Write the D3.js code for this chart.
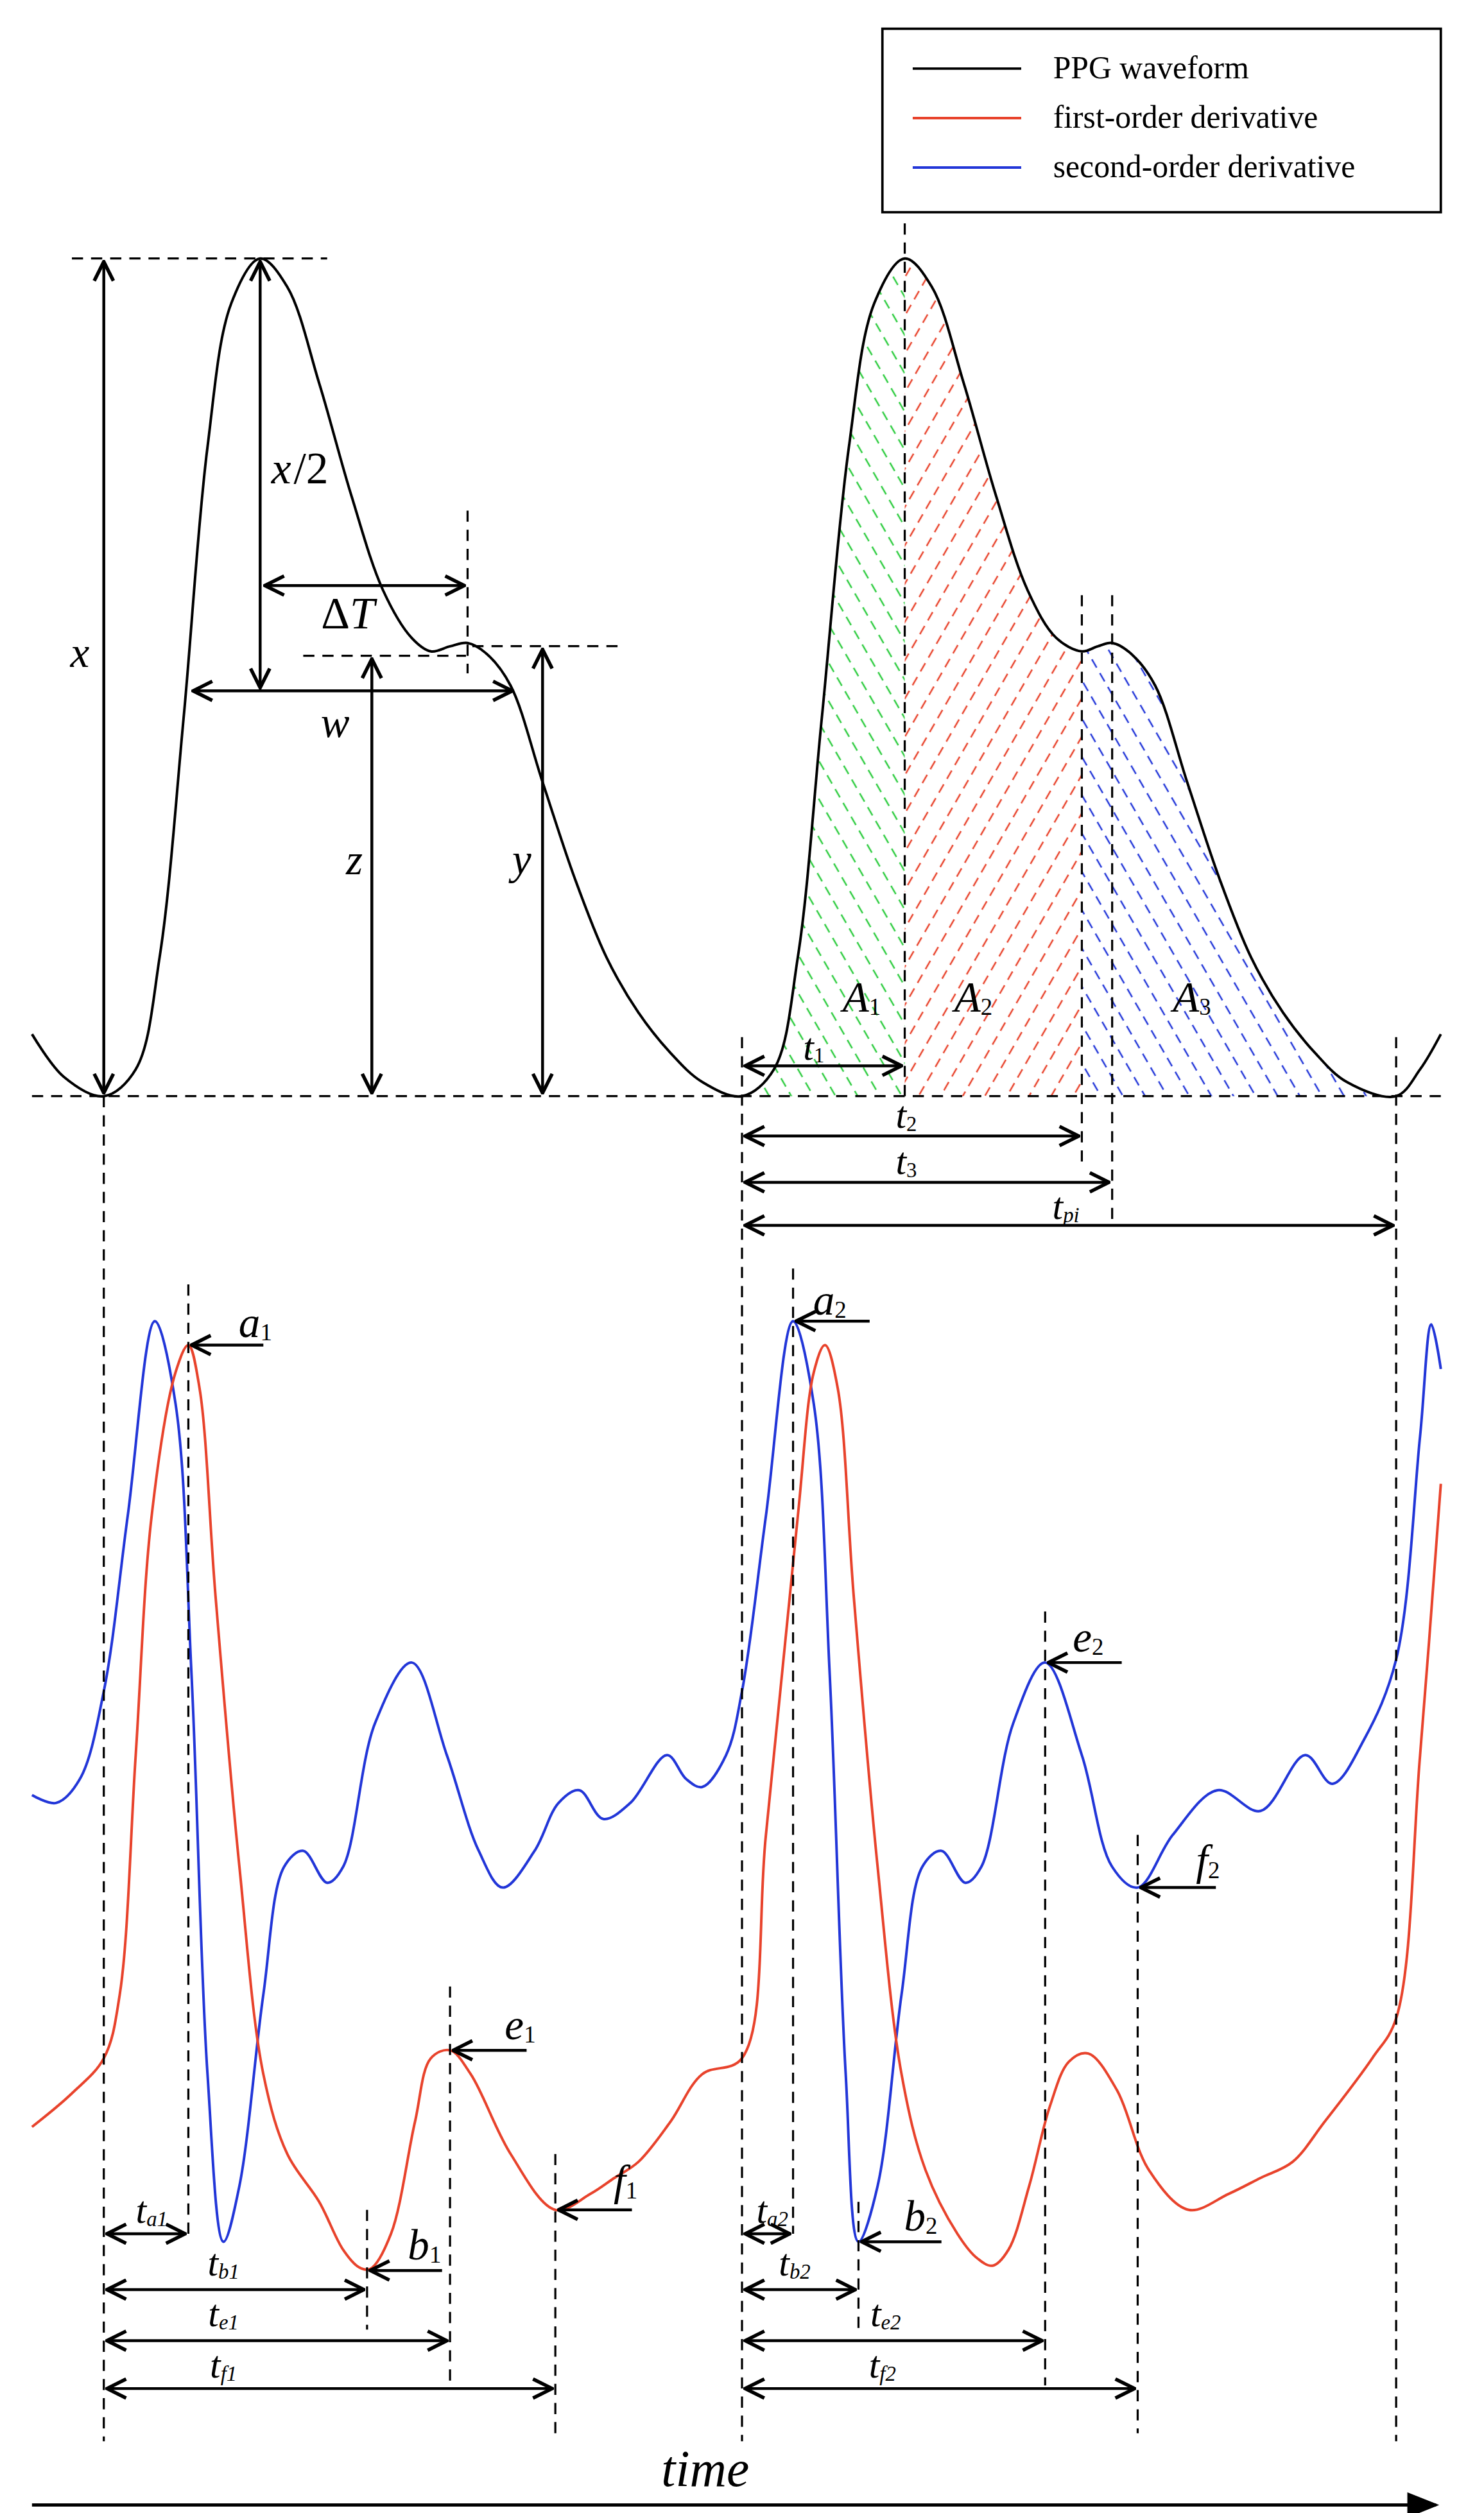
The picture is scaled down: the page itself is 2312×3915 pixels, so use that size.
<!DOCTYPE html>
<html>
<head>
<meta charset="utf-8">
<script src="https://cdn.jsdelivr.net/npm/d3@7"></script>
<style>
  body { margin: 0; background: #fff; }
</style>
</head>
<body>
<script>
// PPG waveform (time, amplitude 0..100)
const ppgT = [20, 40, 65, 85, 100, 115, 130, 145, 163, 180, 200, 220, 240, 258, 270, 282, 293, 305, 320, 340, 360, 380, 400, 420, 440, 465,
              485, 500, 515, 532, 548, 567, 584, 604, 624, 644, 662, 678, 688, 697, 709, 724, 744, 764, 784, 804, 824, 844, 875, 890, 903];
const ppgV = [7.4, 2.3, 0, 3.2, 16.6, 45.1, 77.5, 94.7, 100, 96.6, 85.1, 71.8, 60.4, 54.7, 53.1, 53.7, 54.1, 52.8, 49, 37.5, 26.1, 16.6, 10, 5.2, 1.7, 0,
              3.2, 16.6, 45.1, 77.5, 94.7, 100, 96.6, 85.1, 71.8, 60.4, 54.7, 53.1, 53.7, 54.1, 52.8, 49, 37.5, 26.1, 16.6, 10, 5.2, 1.7, 0, 3.2, 7.4];

// second-order derivative (blue)
const d2T = [20, 35, 50, 65, 80, 97, 110, 120, 130, 140, 150, 165, 178, 190, 205, 215, 235, 258, 280, 300, 315, 335, 350, 363, 378, 395, 418, 430, 440, 455,
             465, 480, 497, 510, 520, 530, 538, 550, 565, 578, 590, 605, 615, 635, 655, 678, 697, 713, 735, 763, 790, 818, 835, 855, 875, 890, 897, 903];
const d2V = [5, 0, 15, 70, 180, 302, 250, 80, -170, -275, -240, -120, -40, -30, -50, -40, 50, 88, 30, -30, -53, -30, 0, 8, -10, 0, 30, 15, 10, 30,
             70, 180, 302, 250, 80, -170, -275, -240, -120, -40, -30, -50, -40, 50, 88, 30, -40, -53, -20, 8, -5, 30, 12, 40, 90, 230, 300, 272];

// first-order derivative (red)
const d1T = [20, 45, 65, 75, 85, 95, 110, 118, 125, 135, 150, 165, 180, 200, 215, 225, 232, 245, 260, 270, 282, 295, 320, 348, 370, 385, 400, 420, 440, 465,
             480, 500, 510, 517, 525, 535, 550, 565, 580, 600, 612, 622, 632, 645, 658, 670, 682, 700, 720, 745, 770, 790, 810, 830, 860, 875, 890, 903];
const d1V = [-203, -182, -160, -120, 30, 180, 270, 287, 260, 130, -40, -170, -220, -250, -280, -291, -292, -270, -200, -160, -155, -170, -220, -255, -245, -235, -225, -200, -170, -160,
             -20, 180, 270, 287, 260, 130, -40, -170, -230, -270, -285, -290, -280, -240, -190, -162, -157, -180, -230, -255, -245, -235, -225, -200, -160, -135, 30, 200];

const legendItems = ["PPG waveform", "first-order derivative", "second-order derivative"];
const legendColors = ["#000", "#e8432c", "#2236d8"];

const W = 930, H = 1575;
const FONT = "'Liberation Serif', 'Times New Roman', 'DejaVu Serif', serif";
const svg = d3.select("body").append("svg")
  .attr("width", 2312).attr("height", 3915)
  .attr("viewBox", `0 0 ${W} ${H}`)
  .attr("font-family", FONT);

const x = d3.scaleLinear().domain([0, W]).range([0, W]);
const yTop = d3.scaleLinear().domain([0, 100]).range([687, 162]);
const yBot = d3.scaleLinear().domain([-300, 300]).range([1430, 830]);

const defs = svg.append("defs");
defs.append("marker").attr("id", "arr")
  .attr("viewBox", "0 0 14 14").attr("refX", 13).attr("refY", 7)
  .attr("markerWidth", 14).attr("markerHeight", 14).attr("markerUnits", "userSpaceOnUse")
  .attr("orient", "auto-start-reverse")
  .append("path").attr("d", "M1,1 L13,7 L1,13").attr("fill", "none").attr("stroke", "#000").attr("stroke-width", 2.2);

// hatch patterns
[["hg", "#2ecc40", -30], ["hr", "#e8432c", 30], ["hb", "#2236d8", -30]].forEach(([id, c, a]) => {
  const p = defs.append("pattern").attr("id", id).attr("patternUnits", "userSpaceOnUse")
    .attr("width", 12).attr("height", 10).attr("patternTransform", `rotate(${a})`);
  p.append("line").attr("x1", 2).attr("y1", 0).attr("x2", 2).attr("y2", 6)
    .attr("stroke", c).attr("stroke-width", 1);
});

const ppg = ppgT.map((t, i) => ({ t, v: ppgV[i] }));
const d1 = d1T.map((t, i) => ({ t, v: d1V[i] }));
const d2 = d2T.map((t, i) => ({ t, v: d2V[i] }));

const curve = d3.curveCatmullRom.alpha(0.5);
const area = d3.area().x(d => x(d.t)).y0(yTop(0)).y1(d => yTop(d.v)).curve(curve);

[[465, 567, "hg"], [567, 678, "hr"], [678, 875, "hb"]].forEach(([a, b, id], i) => {
  defs.append("clipPath").attr("id", "c" + i)
    .append("rect").attr("x", x(a)).attr("y", 0).attr("width", x(b) - x(a)).attr("height", 700);
  svg.append("path").datum(ppg).attr("d", area).attr("fill", `url(#${id})`).attr("clip-path", `url(#c${i})`);
});

const line = s => d3.line().x(d => x(d.t)).y(d => s(d.v)).curve(curve);
svg.append("path").datum(ppg).attr("d", line(yTop)).attr("fill", "none").attr("stroke", "#000").attr("stroke-width", 1.6);
svg.append("path").datum(d2).attr("d", line(yBot)).attr("fill", "none").attr("stroke", legendColors[2]).attr("stroke-width", 1.6);
svg.append("path").datum(d1).attr("d", line(yBot)).attr("fill", "none").attr("stroke", legendColors[1]).attr("stroke-width", 1.6);

// helpers
function dash(x1, y1, x2, y2) {
  svg.append("line").attr("x1", x1).attr("y1", y1).attr("x2", x2).attr("y2", y2)
    .attr("stroke", "#000").attr("stroke-width", 1.3).attr("stroke-dasharray", "7,5");
}
function arrow(x1, y1, x2, y2, both = true) {
  svg.append("line").attr("x1", x1).attr("y1", y1).attr("x2", x2).attr("y2", y2)
    .attr("stroke", "#000").attr("stroke-width", 1.8)
    .attr("marker-end", "url(#arr)").attr("marker-start", both ? "url(#arr)" : null);
}
function label(tx, ty, main, sub, size = 27) {
  const t = svg.append("text").attr("x", tx).attr("y", ty).attr("font-size", size).attr("font-style", "italic").attr("text-anchor", "middle");
  t.append("tspan").text(main);
  if (sub) t.append("tspan").attr("font-size", size * 0.55).attr("font-style", sub.italic ? "italic" : "normal").attr("dy", 2).text(sub.s);
}

// baseline and top annotations
dash(20, 687, 905, 687);
dash(45, 162, 205, 162);
arrow(65, 164, 65, 685); label(50, 418, "x");
arrow(163, 164, 163, 431);
svg.append("text").attr("x", 170).attr("y", 303).attr("font-size", 28).attr("font-style", "italic").text("x");
svg.append("text").attr("x", 184).attr("y", 303).attr("font-size", 28).text("/2");
arrow(166, 367, 291, 367);
svg.append("text").attr("x", 218).attr("y", 394).attr("font-size", 28).attr("text-anchor", "middle")
  .call(t => { t.append("tspan").text("Δ"); t.append("tspan").attr("font-style", "italic").text("T"); });
dash(293, 320, 293, 422);
dash(190, 411, 292, 411);
dash(296, 405, 392, 405);
arrow(121, 433, 321, 433); label(210, 462, "w");
arrow(233, 413, 233, 685); label(222, 548, "z");
arrow(340, 407, 340, 685); label(327, 548, "y");

// right cycle annotations
dash(567, 140, 567, 687);
dash(678, 373, 678, 730);
dash(697, 373, 697, 765);
dash(465, 650, 465, 1530);
dash(875, 650, 875, 1530);
arrow(467, 668, 565, 668); label(510, 664, "t", { s: "1" }, 24);
arrow(467, 712, 676, 712); label(568, 707, "t", { s: "2" }, 24);
arrow(467, 741, 695, 741); label(568, 736, "t", { s: "3" }, 24);
arrow(467, 768, 873, 768); label(668, 764, "t", { s: "pi", italic: true }, 24);
label(540, 634, "A", { s: "1" }); label(610, 634, "A", { s: "2" }); label(747, 634, "A", { s: "3" });

// bottom annotations
dash(65, 687, 65, 1530);
dash(118, 805, 118, 1400); arrow(165, 843, 120, 843, false); label(160, 838, "a", { s: "1" });
dash(497, 795, 497, 1400); arrow(545, 828, 499, 828, false); label(520, 824, "a", { s: "2" });
dash(230, 1385, 230, 1460); arrow(277, 1423, 232, 1423, false); label(266, 1416, "b", { s: "1" });
dash(282, 1245, 282, 1495); arrow(330, 1285, 284, 1285, false); label(326, 1278, "e", { s: "1" });
dash(348, 1350, 348, 1525); arrow(396, 1385, 350, 1385, false); label(392, 1376, "f", { s: "1" });
dash(538, 1380, 538, 1460); arrow(590, 1405, 540, 1405, false); label(577, 1398, "b", { s: "2" });
dash(655, 1010, 655, 1495); arrow(703, 1042, 657, 1042, false); label(682, 1035, "e", { s: "2" });
dash(713, 1150, 713, 1525); arrow(762, 1183, 715, 1183, false); label(757, 1175, "f", { s: "2" });

arrow(67, 1400, 116, 1400); label(95, 1393, "t", { s: "a1", italic: true }, 24);
arrow(67, 1435, 228, 1435); label(140, 1426, "t", { s: "b1", italic: true }, 24);
arrow(67, 1467, 280, 1467); label(140, 1458, "t", { s: "e1", italic: true }, 24);
arrow(67, 1497, 346, 1497); label(140, 1490, "t", { s: "f1", italic: true }, 24);
arrow(467, 1400, 495, 1400); label(484, 1393, "t", { s: "a2", italic: true }, 24);
arrow(467, 1435, 536, 1435); label(498, 1426, "t", { s: "b2", italic: true }, 24);
arrow(467, 1467, 653, 1467); label(555, 1458, "t", { s: "e2", italic: true }, 24);
arrow(467, 1497, 711, 1497); label(553, 1490, "t", { s: "f2", italic: true }, 24);

// time axis
svg.append("line").attr("x1", 20).attr("y1", 1570).attr("x2", 900).attr("y2", 1570)
  .attr("stroke", "#000").attr("stroke-width", 2);
svg.append("path").attr("d", "M882,1562 L902,1570 L882,1578 Z").attr("fill", "#000");
svg.append("text").attr("x", 442).attr("y", 1558).attr("font-size", 32).attr("font-style", "italic").attr("text-anchor", "middle").text("time");

// legend
const lg = svg.append("g");
lg.append("rect").attr("x", 553).attr("y", 18).attr("width", 350).attr("height", 115)
  .attr("fill", "#fff").attr("stroke", "#000").attr("stroke-width", 1.5);
legendItems.forEach((name, i) => {
  const yy = 43 + i * 31;
  lg.append("line").attr("x1", 572).attr("x2", 640).attr("y1", yy).attr("y2", yy)
    .attr("stroke", legendColors[i]).attr("stroke-width", 1.6);
  lg.append("text").attr("x", 660).attr("y", yy + 6).attr("font-size", 20).text(name);
});
</script>
</body>
</html>
